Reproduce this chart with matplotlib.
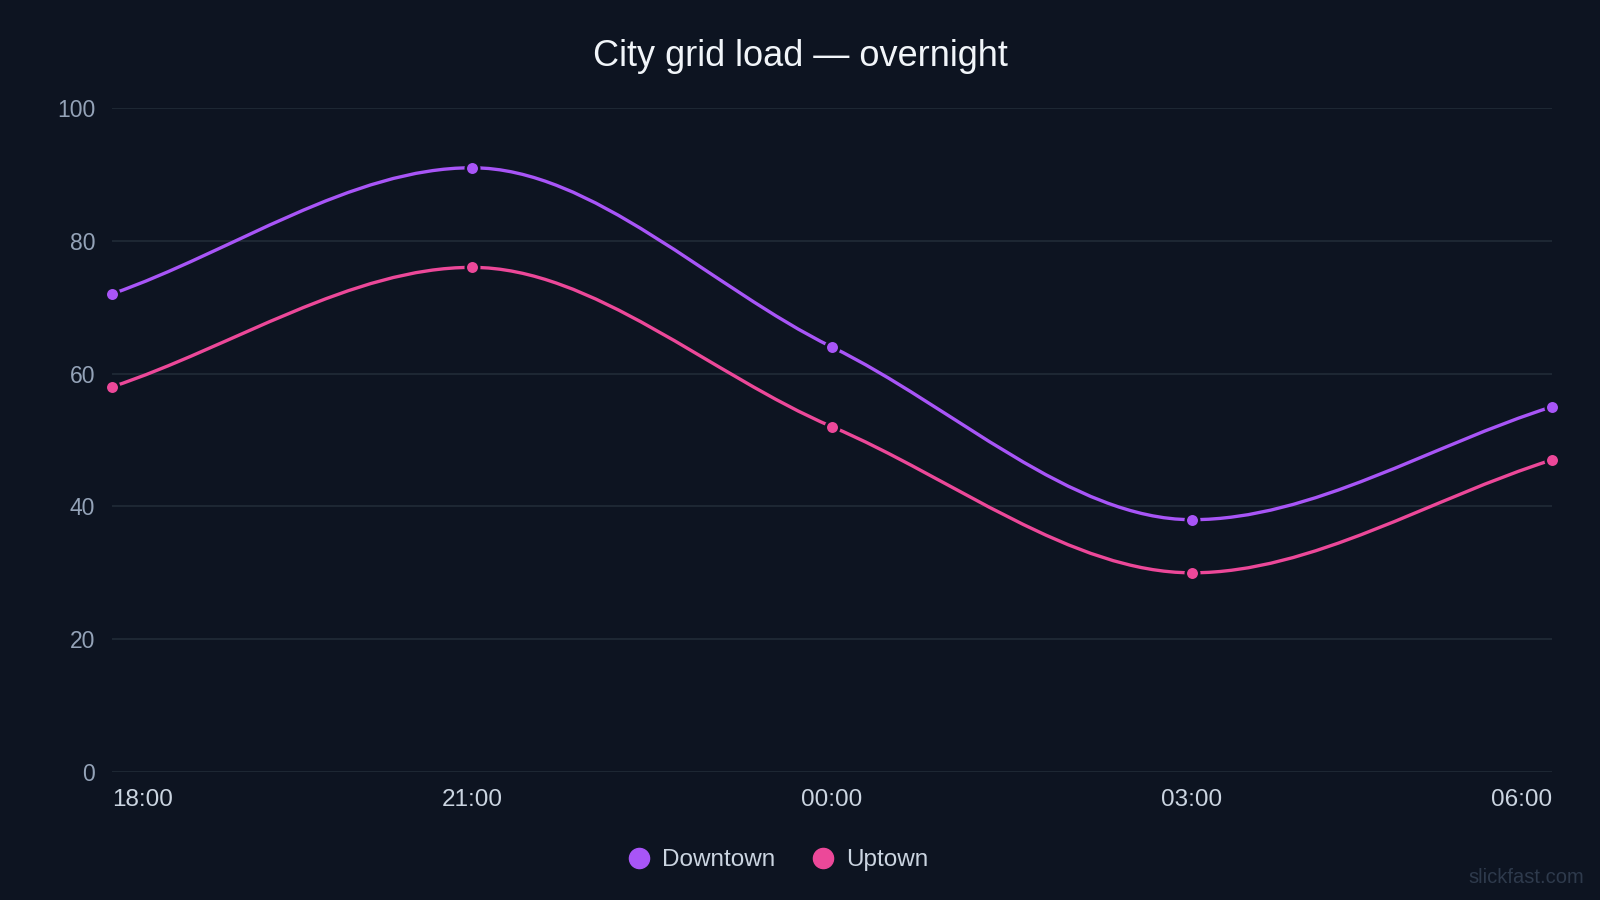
import numpy as np
import matplotlib
matplotlib.use('Agg')
import matplotlib.pyplot as plt
from matplotlib.path import Path
from matplotlib.patches import PathPatch
from matplotlib.lines import Line2D

# data
times = ['18:00', '21:00', '00:00', '03:00', '06:00']
downtown = [72, 91, 64, 38, 55]
uptown = [58, 76, 52, 30, 47]

bg = '#0d1421'
grid_c = '#1f2a36'
purple = '#a855f7'
pink = '#ec4899'

plt.rcParams['font.family'] = ['Liberation Sans', 'DejaVu Sans']


def monotone_path(xs, ys):
    # monotone cubic (fritsch-carlson), drawn as bezier segments
    xs = np.array(xs, float)
    ys = np.array(ys, float)
    n = len(xs)
    dx = np.diff(xs)
    dk = np.diff(ys) / dx
    m = np.zeros(n)
    m[0] = dk[0]
    m[-1] = dk[-1]
    for i in range(1, n - 1):
        if dk[i - 1] * dk[i] <= 0:
            m[i] = 0
        else:
            m[i] = (dk[i - 1] + dk[i]) / 2
    for i in range(n - 1):
        if dk[i] == 0:
            m[i] = m[i + 1] = 0
            continue
        a = m[i] / dk[i]
        b = m[i + 1] / dk[i]
        s = a * a + b * b
        if s > 9:
            tau = 3 / np.sqrt(s)
            m[i] = tau * a * dk[i]
            m[i + 1] = tau * b * dk[i]
    verts = [(xs[0], ys[0])]
    codes = [Path.MOVETO]
    for i in range(n - 1):
        h = dx[i] / 3
        verts += [(xs[i] + h, ys[i] + m[i] * h),
                  (xs[i + 1] - h, ys[i + 1] - m[i + 1] * h),
                  (xs[i + 1], ys[i + 1])]
        codes += [Path.CURVE4] * 3
    return Path(verts, codes)


fig = plt.figure(figsize=(16, 9), dpi=100, facecolor=bg)
ax = fig.add_axes([0.07, 0.1422, 0.9, 0.7378], facecolor=bg)

x = np.arange(len(times))
for vals, col in [(downtown, purple), (uptown, pink)]:
    ax.add_patch(PathPatch(monotone_path(x, vals), fill=False, edgecolor=col, lw=2.4,
                           zorder=3, capstyle='round'))
    ax.plot(x, vals, ls='none', marker='o', ms=9.7, mfc=col, mec=bg, mew=1.8,
            zorder=4, clip_on=False)

ax.set_xlim(0, len(times) - 1)
ax.set_ylim(0, 100)
ax.set_yticks(range(0, 101, 20))
ax.grid(axis='y', color=grid_c, lw=1.3)
ax.set_axisbelow(True)
for s in ax.spines.values():
    s.set_visible(False)
ax.tick_params(length=0)
ax.tick_params(axis='y', colors='#94a3b8', labelsize=16.5, pad=12)
ax.tick_params(axis='x', colors='#cbd5e1', labelsize=17.5, pad=12)
ax.set_xticks(x)
ax.set_xticklabels(times)
lbls = ax.get_xticklabels()
lbls[0].set_ha('left')
lbls[-1].set_ha('right')

fig.text(0.5, 0.937, 'City grid load \u2014 overnight', ha='center', va='center',
         color='#f1f5f9', fontsize=26)

handles = [Line2D([], [], ls='none', marker='o', ms=14.5, mfc=purple, mec=purple),
           Line2D([], [], ls='none', marker='o', ms=14.5, mfc=pink, mec=pink)]
leg = fig.legend(handles, ['Downtown', 'Uptown'], loc='center', bbox_to_anchor=(0.486, 0.044),
                 ncol=2, frameon=False, fontsize=17.5, handletextpad=0.45, columnspacing=1.45,
                 handlelength=1.0)
for t in leg.get_texts():
    t.set_color('#cbd5e1')

fig.text(0.99, 0.025, 'slickfast.com', ha='right', va='center', color='#2e3a4c', fontsize=14.5)

fig.savefig('out.png', dpi=100, facecolor=bg)
